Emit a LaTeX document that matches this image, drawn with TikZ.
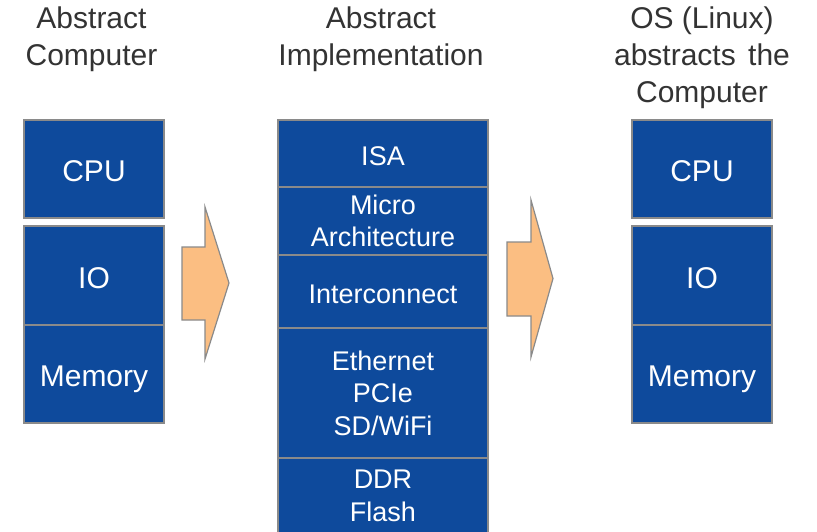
\documentclass[tikz,border=0pt]{standalone}
\usepackage{fontspec}
\setmainfont{Liberation Sans}
\definecolor{boxblue}{HTML}{0E4A9C}
\definecolor{boxline}{HTML}{8A8A8A}
\definecolor{arrowfill}{HTML}{FBBE82}
\definecolor{titlegray}{HTML}{333333}
\tikzset{
  title/.style={align=center, anchor=base, inner sep=0pt, text=titlegray, font=\fontsize{30}{37}\selectfont},
  sidebox/.style={draw=boxline, line width=1.4pt, fill=boxblue, text=white, minimum width=140pt, inner sep=0pt, align=center, text height=25pt, text depth=0pt, font=\fontsize{30}{36}\selectfont},
  midbox/.style={draw=boxline, line width=1.4pt, fill=boxblue, text=white, minimum width=210pt, inner sep=0pt, align=center, font=\fontsize{27}{32.5}\selectfont},
  midone/.style={midbox, text height=23pt, text depth=0pt},
  blockarrow/.style={draw=boxline, line width=1.2pt, fill=arrowfill, line join=miter}
}
\begin{document}
\begin{tikzpicture}[x=1pt,y=-1pt]
\clip (0,0) rectangle (817,531);
\fill[white] (0,0) rectangle (817,531);
% titles (anchored at the baseline of the last line)
\node[title] (t1) at (91.5,65) {Abstract\\Computer};
\node[title] (t2) at (381,65) {Abstract\\Implementation};
\node[title] (t3) at (702,102) {OS (Linux)\\abstracts \hspace{4pt}the\\Computer};
% left column
\node[sidebox, minimum height=98pt] (lcpu) at (94,169) {CPU};
\node[sidebox, minimum height=99pt] (lio) at (94,275.5) {IO};
\node[sidebox, minimum height=98pt] (lmem) at (94,374) {Memory};
% middle column
\node[midone, minimum height=67pt] (isa) at (383,153.5) {ISA};
\node[midbox, minimum height=68pt] (march) at (383,221) {Micro\\Architecture};
\node[midone, minimum height=73pt] (ic) at (383,291.5) {Interconnect};
\node[midbox, minimum height=130pt] (eth) at (383,393) {Ethernet\\PCIe\\SD/WiFi};
\node[midbox, minimum height=76pt] (ddr) at (383,496) {DDR\\Flash};
% right column
\node[sidebox, minimum height=98pt] (rcpu) at (702,169) {CPU};
\node[sidebox, minimum height=99pt] (rio) at (702,275.5) {IO};
\node[sidebox, minimum height=98pt] (rmem) at (702,374) {Memory};
% block arrows
\draw[blockarrow] (182,247) -- (205,247) -- (205,207) -- (229,283) -- (205,359) -- (205,320) -- (182,320) -- cycle;
\draw[blockarrow] (507,242) -- (531,242) -- (531,200) -- (553,278.5) -- (531,357) -- (531,316) -- (507,316) -- cycle;
\end{tikzpicture}
\end{document}
